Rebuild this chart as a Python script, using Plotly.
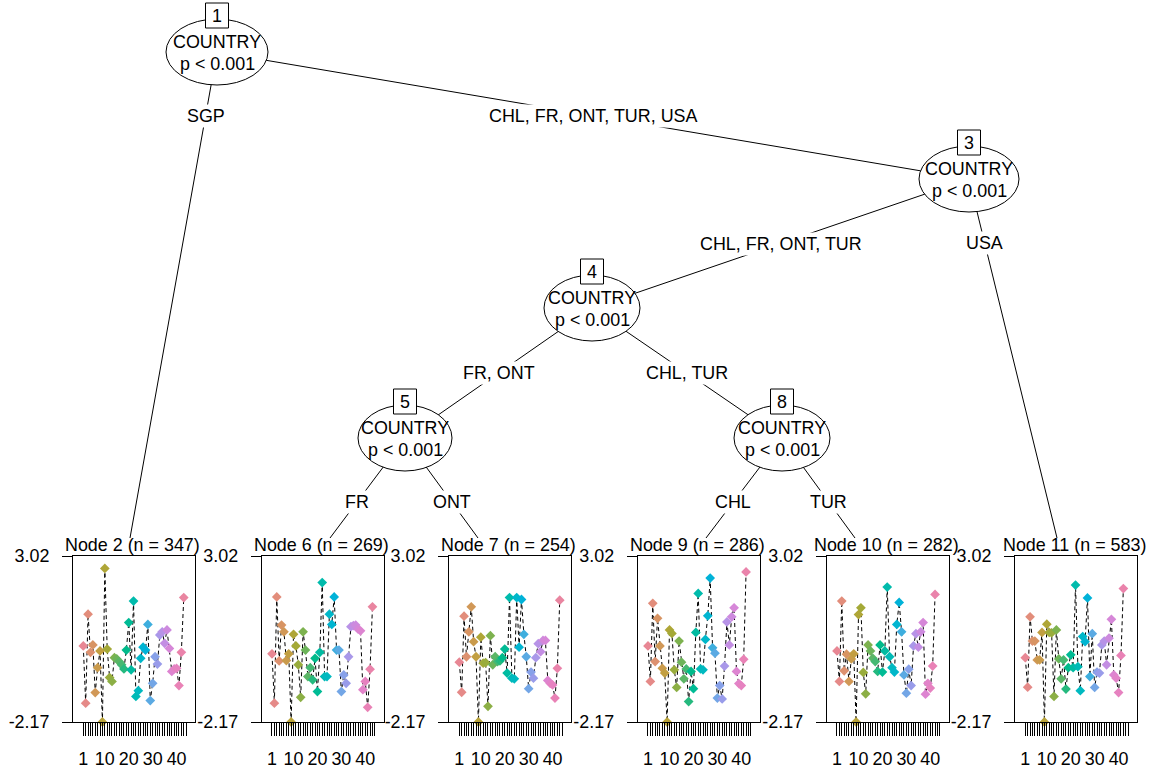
import math
import plotly.graph_objects as go

W, H = 1157, 771

# ---------------- data ----------------
node2_vals = [0.21, -1.58, 1.20, 0.01, 0.24, -1.25, -0.47, 0.05, -2.17, 2.63, 0.11, -0.78, -0.90,
              -0.16, -0.20, -0.28, -0.38, -0.51, 0.08, 0.94, -0.54, 1.61, -1.37, -1.19, -0.18, 0.17,
              0.08, 0.88, -1.50, -0.96, -0.13, -0.36, 0.55, 0.65, 0.29, 0.71, 0.13, -0.59, -0.51,
              -0.49, -1.03, 0.01, 1.72]
node6_vals = [-0.04, -1.58, 1.74, -0.26, 0.86, 0.65, -0.25, -0.04, -2.17, 0.57, 0.21, -0.38, -1.40,
              0.65, 0.08, -0.75, -0.47, -0.85, -0.18, -1.22, 0.01, 2.19, -0.75, -0.75, 1.20, 0.88,
              1.74, 0.08, 0.08, -1.22, -0.70, -0.96, -0.13, 0.81, 0.84, 0.86, 0.73, 0.68, -1.16,
              -0.90, -1.71, -0.52, 1.43]
node7_vals = [-0.30, -1.24, 1.14, -0.13, 0.65, 1.43, 0.34, -0.13, -2.17, 0.48, -0.33, -0.31, -1.68,
              0.53, -0.38, -0.13, -0.28, -0.26, -0.16, 0.11, -0.64, 1.72, -0.80, -0.82, 1.72, 0.17,
              1.66, 0.57, -0.13, -1.13, -0.61, -0.80, -0.16, 0.28, 0.03, 0.38, 0.38, -0.87, -0.96,
              -1.01, -1.42, -0.49, 1.64]
node9_vals = [0.21, -0.90, 1.54, -0.28, 1.07, 0.21, -0.49, -0.64, -2.17, 0.71, 0.60, -0.54, -1.09,
              0.36, -0.30, -0.82, -0.51, -1.53, -0.59, -1.13, 0.63, 1.85, -0.51, -0.54, 0.41, 1.15,
              2.33, 0.15, -0.02, -1.42, -1.03, -1.45, -0.42, 0.96, 0.24, 1.12, 1.40, -0.59, -0.97,
              -1.03, -0.21, 2.52]
node10_vals = [0.05, -0.90, 1.61, -0.57, -0.05, -0.90, -0.20, -0.04, -2.17, 1.19, 1.40, -0.62, -1.29,
               0.24, 0.05, -0.18, -0.28, -0.59, 0.24, -0.61, 0.05, 2.05, -0.13, -0.47, -0.61, 0.88,
               1.57, 0.65, -0.70, -1.27, -0.52, -1.03, 0.21, 0.59, 0.17, 0.65, 0.94, -1.30, -0.96,
               -1.11, -0.42, 1.82]
node11_vals = [-0.16, -1.08, 1.12, 0.36, 0.36, -0.23, -0.23, 0.63, -2.17, 0.89, 0.63, 0.62, -1.37,
               0.71, -0.20, -0.82, -0.23, -1.14, -0.47, -0.07, -0.47, 2.11, -0.44, -1.19, 0.50, 0.34,
               1.71, -0.75, 0.59, -1.09, -0.61, -0.64, 0.24, 0.36, -0.38, 0.45, 1.04, -0.70, -0.80,
               -1.25, -0.09, 2.00]

panel_values = [node2_vals, node6_vals, node7_vals, node9_vals, node10_vals, node11_vals]
panel_titles = ["Node 2 (n = 347)", "Node 6 (n = 269)", "Node 7 (n = 254)",
                "Node 9 (n = 286)", "Node 10 (n = 282)", "Node 11 (n = 583)"]
n_ticks = 44
x_label_at = [1, 10, 20, 30, 40]
y_lim = [-2.17, 3.02]
y_tick_text = ["-2.17", "3.02"]

# tree structure
inner_ids = ["1", "3", "4", "5", "8"]
inner_var = ["COUNTRY", "COUNTRY", "COUNTRY", "COUNTRY", "COUNTRY"]
inner_p = ["p < 0.001", "p < 0.001", "p < 0.001", "p < 0.001", "p < 0.001"]
inner_edge_parent = ["1", "3", "4", "4"]
inner_edge_child = ["3", "4", "5", "8"]
inner_edge_label = ["CHL, FR, ONT, TUR, USA", "CHL, FR, ONT, TUR", "FR, ONT", "CHL, TUR"]
term_edge_parent = ["1", "3", "5", "5", "8", "8"]
term_edge_label = ["SGP", "USA", "FR", "ONT", "CHL", "TUR"]

# ---------------- layout geometry (pixels) ----------------
inner_pos = {"1": (217, 52), "3": (969, 179), "4": (592, 308), "5": (405, 438), "8": (782, 438)}
inner_rx = {"1": 51, "3": 50, "4": 48, "5": 47, "8": 48}
inner_ry = 33
term_target_x = [130, 1057, 330, 478, 706, 855]
term_target_y = 538
panel_left = [73, 261.7, 449, 637.7, 826.7, 1015]
panel_w = 122
panel_top, panel_bot = 556, 722
FONT = "Liberation Sans, Arial, sans-serif"
FS = 17.9


def px(x):
    return x / W


def py(y):
    return 1 - y / H


def hcl_hex(h, c=65, l=67):
    hr = math.radians(h)
    U, V = c * math.cos(hr), c * math.sin(hr)
    Xn, Yn, Zn = 95.047, 100.0, 108.883
    Y = Yn * (((l + 16) / 116) ** 3 if l > 8 else l / 903.3)
    un = 4 * Xn / (Xn + 15 * Yn + 3 * Zn)
    vn = 9 * Yn / (Xn + 15 * Yn + 3 * Zn)
    u = U / (13 * l) + un
    v = V / (13 * l) + vn
    X = 9 * Y * u / (4 * v)
    Z = -X / 3 - 5 * Y + 3 * Y / v
    X, Y, Z = X / 100, Y / 100, Z / 100
    r = 3.2404542 * X - 1.5371385 * Y - 0.4985314 * Z
    g = -0.9692660 * X + 1.8760108 * Y + 0.0415560 * Z
    b = 0.0556434 * X - 0.2040259 * Y + 1.0572252 * Z

    def gam(t):
        t = 1.055 * t ** (1 / 2.4) - 0.055 if t > 0.0031308 else 12.92 * t
        return max(0, min(255, round(t * 255)))
    return "#%02x%02x%02x" % (gam(r), gam(g), gam(b))


n_col = 43
palette = [hcl_hex(5 + 360 * i / n_col) for i in range(n_col)]

fig = go.Figure()
shapes = []
annotations = []


def txt(x, y, text, **kw):
    d = dict(x=px(x), y=py(y), xref="paper", yref="paper", text=text, showarrow=False,
             xanchor="center", yanchor="middle",
             font=dict(family=FONT, size=FS, color="black"))
    d.update(kw)
    return d


# ---------------- terminal panels ----------------
for k, vals in enumerate(panel_values):
    ax = "" if k == 0 else str(k + 1)
    xs = list(range(1, len(vals) + 1))
    fig.add_trace(go.Scatter(x=xs, y=vals, mode="lines",
                             line=dict(color="black", width=1, dash="4px,3px"),
                             xaxis="x" + ax, yaxis="y" + ax, showlegend=False, hoverinfo="skip"))
    fig.add_trace(go.Scatter(x=xs, y=vals, mode="markers",
                             marker=dict(symbol="diamond", size=7.5,
                                         color=[palette[i % n_col] for i in range(len(vals))],
                                         line=dict(width=0)),
                             cliponaxis=False,
                             xaxis="x" + ax, yaxis="y" + ax, showlegend=False))
    left = panel_left[k]
    xdom = [px(left), px(left + panel_w)]
    ydom = [py(panel_bot), py(panel_top)]
    tickvals = list(range(1, n_ticks + 1))
    ticktext = [str(t) if t in x_label_at else "" for t in tickvals]
    fig.layout["xaxis" + ax] = dict(
        domain=xdom, range=[-3.3, 47.7], anchor="y" + ax, automargin=False,
        tickmode="array", tickvals=tickvals, ticktext=ticktext,
        ticks="outside", ticklen=13, tickwidth=1, tickcolor="black",
        showline=True, linecolor="black", linewidth=1, mirror=True,
        showgrid=False, zeroline=False, ticklabelstandoff=8,
        tickfont=dict(family=FONT, size=FS, color="black"), tickangle=0)
    fig.layout["yaxis" + ax] = dict(
        domain=ydom, range=y_lim, anchor="x" + ax, automargin=False,
        tickmode="array", tickvals=y_lim, ticktext=y_tick_text,
        ticks="outside", ticklen=10, tickwidth=1, tickcolor="black",
        showline=True, linecolor="black", linewidth=1, mirror=True,
        showgrid=False, zeroline=False, ticklabelstandoff=9,
        tickfont=dict(family=FONT, size=FS, color="black"))
    annotations.append(txt(left + panel_w / 2 - 1.5, 545, panel_titles[k]))

# ---------------- tree edges ----------------
for p, c, lab in zip(inner_edge_parent, inner_edge_child, inner_edge_label):
    x0, y0 = inner_pos[p]
    x1, y1 = inner_pos[c]
    shapes.append(dict(type="line", xref="paper", yref="paper", x0=px(x0), y0=py(y0),
                       x1=px(x1), y1=py(y1), line=dict(color="black", width=1)))
    annotations.append(txt((x0 + x1) / 2, (y0 + y1) / 2, lab, bgcolor="white", borderpad=1))

for p, tx, lab in zip(term_edge_parent, term_target_x, term_edge_label):
    x0, y0 = inner_pos[p]
    shapes.append(dict(type="line", xref="paper", yref="paper", x0=px(x0), y0=py(y0),
                       x1=px(tx), y1=py(term_target_y), line=dict(color="black", width=1)))
    ly = y0 + 64
    lx = x0 + (tx - x0) * (ly - y0) / (term_target_y - y0)
    annotations.append(txt(lx, ly, lab, bgcolor="white", borderpad=1))

# ---------------- tree inner nodes ----------------
for nid, var, pv in zip(inner_ids, inner_var, inner_p):
    cx, cy = inner_pos[nid]
    rx = inner_rx[nid]
    shapes.append(dict(type="circle", xref="paper", yref="paper",
                       x0=px(cx - rx), x1=px(cx + rx), y0=py(cy + inner_ry), y1=py(cy - inner_ry),
                       fillcolor="white", line=dict(color="black", width=1)))
    shapes.append(dict(type="rect", xref="paper", yref="paper",
                       x0=px(cx - 11.5), x1=px(cx + 11.5), y0=py(cy - 24), y1=py(cy - 49),
                       fillcolor="white", line=dict(color="black", width=1)))
    annotations.append(txt(cx, cy - 36, nid))
    annotations.append(txt(cx, cy - 10, var))
    annotations.append(txt(cx, cy + 12, pv))

fig.update_layout(width=W, height=H, autosize=False,
                  margin=dict(l=0, r=0, t=0, b=0, pad=0),
                  paper_bgcolor="white", plot_bgcolor="white",
                  shapes=shapes, annotations=annotations, showlegend=False,
                  font=dict(family=FONT, size=FS, color="black"))

fig.write_html("out.html")
